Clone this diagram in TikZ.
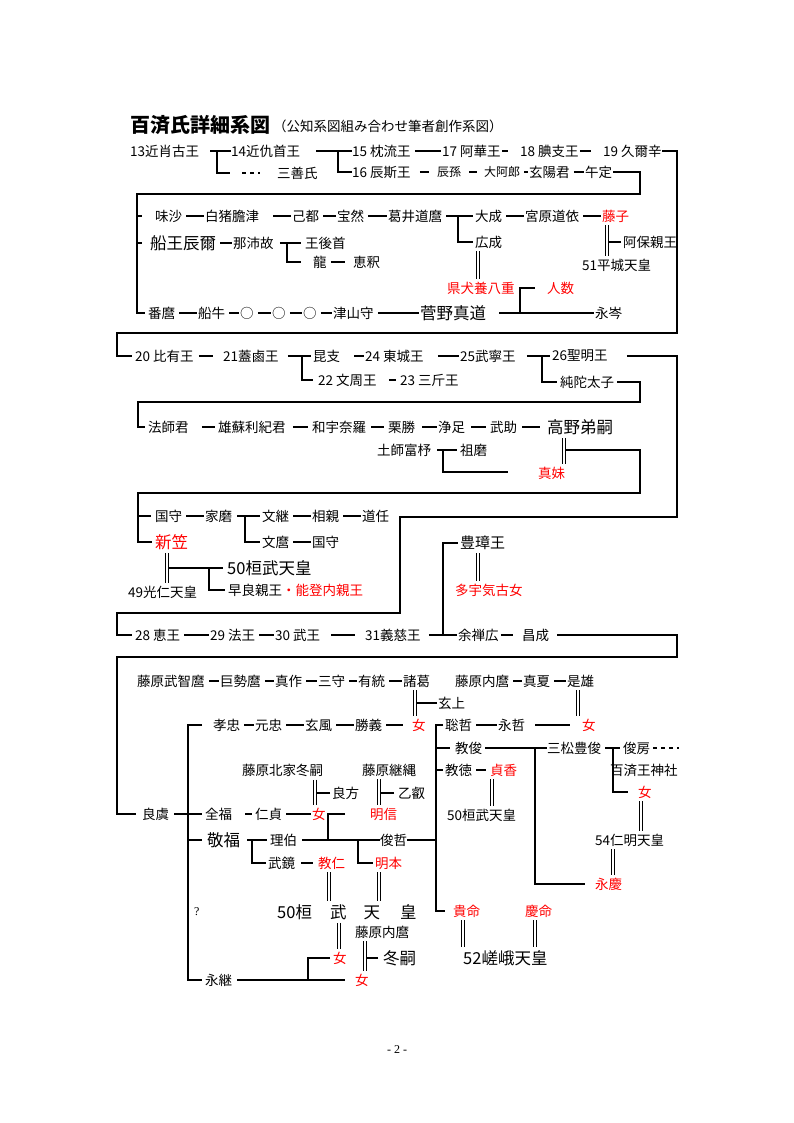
\documentclass[tikz,border=0pt]{standalone}
\usepackage{fontspec}
\setmainfont{Noto Sans CJK JP}
\newfontfamily\serfont{Liberation Serif}
\usetikzlibrary{calc}
% marriage double line: upper node, lower node, x offset from upper node west
\newcommand{\wed}[3]{\draw[dl] ($(#1.south west)+(#3,3)$) coordinate (w) -- ($(w |- #2.north)+(0,-3)$);}

\begin{document}
\begin{tikzpicture}[x=1pt,y=-1pt,
  every node/.style={font=\fontsize{13.5}{14}\selectfont, inner sep=0pt, anchor=west},
  bg/.style={font=\fontsize{16.5}{17}\selectfont},
  md/.style={font=\fontsize{15}{16}\selectfont},
  sm/.style={font=\fontsize{12}{13}\selectfont},
  fm/.style={text=red},
  ln/.style={line width=2.4pt},
  lk/.style={line width=2.4pt, shorten <=4pt, shorten >=1.5pt},
  dl/.style={double, double distance=2pt, line width=1pt},
  dsh/.style={line width=2.2pt, dash pattern=on 4pt off 4pt},
]
  \fill[white] (0,0) rectangle (794,1123);
  \useasboundingbox (0,0) rectangle (794,1123);

  % TITLE
  \node[font=\fontsize{20}{20}\selectfont\bfseries] (ttl) at (130,125) {百済氏詳細系図};
  \node (sub) at (273,126) {（公知系図組み合わせ筆者創作系図）};

  % KINGS 13-19
  \node (k13) at (130,151) {13近肖古王};
  \node (k14) at (231,151) {14近仇首王};
  \node (k15) at (352,151) {15 枕流王};
  \node (k17) at (442,151) {17 阿華王};
  \node (k18) at (520,151) {18 腆支王};
  \node (k19) at (603,151) {19 久爾辛};
  \node (mzs) at (277,173) {三善氏};
  \node (k16) at (352,172) {16 辰斯王};
  \node[sm] (sns) at (437,172) {辰孫};
  \node[sm] (aro) at (484,172) {大阿郎};
  \node (gny) at (529,172) {玄陽君};
  \node (gtei) at (585,172) {午定};

  \coordinate (j13) at (217,151);
  \coordinate (j13b) at (230,173);
  \coordinate (dtb) at (260,173);
  \coordinate (j14) at (338,151);
  \draw[ln] (k13.east) ++(11,0) -- (k14.west) (j13) |- (j13b);
  \draw[dsh] ([xshift=12pt]j13b) -- (dtb);
  \draw[ln] (k14.east) ++(16,0) -- (k15.west) (j14) |- (k16.west);
  \foreach \a/\b in {k15/k17,aro/gny,gny/gtei}
    \draw[lk] (\a.east) -- (\b.west);
  \foreach \a/\b in {k17/k18,k18/k19}
    \draw[lk,shorten <=1pt,shorten >=12pt] (\a.east) -- (\b.west);
  \draw[lk,shorten <=9pt,shorten >=8pt] (k16.east) -- (sns.west);
  \draw[lk,shorten <=8pt,shorten >=7pt] (sns.east) -- (aro.west);

  % FUNE BRANCH
  \node (msa) at (155,216) {味沙};
  \node (hks) at (205,216) {白猪膽津};
  \node (kto) at (292,216) {己都};
  \node (hzn) at (337,216) {宝然};
  \node (fjm) at (388,216) {葛井道麿};
  \node (ose) at (475,216) {大成};
  \node (mhm) at (525,216) {宮原道依};
  \node[fm] (fjk) at (602,216) {藤子};
  \node[bg] (fne) at (150,243) {船王辰爾};
  \node (nsk) at (233,243) {那沛故};
  \node (ogs) at (305,243) {王後首};
  \node (kos) at (475,242) {広成};
  \node (abo) at (623,242) {阿保親王};
  \node (ryu) at (313,262) {龍};
  \node (eks) at (353,262) {恵釈};
  \node (hzt) at (582,265) {51平城天皇};
  \node[fm] (ayy) at (447,288) {県犬養八重};
  \node[fm] (nnk) at (547,288) {人数};
  \node (bnm) at (148,313) {番麿};
  \node (fng) at (198,313) {船牛};
  \node (o1) at (240,313) {○};
  \node (o2) at (272,313) {○};
  \node (o3) at (303,313) {○};
  \node (tsy) at (333,313) {津山守};
  \node[bg] (sgm) at (420,313) {菅野真道};
  \node (eim) at (595,313) {永岑};

  \coordinate (t1a) at (640,194);
  \coordinate (t1b) at (137,194);
  \draw[ln] (gtei.east) ++(1,0) -| (t1a) -- (t1b) -- (t1b |- bnm.west) -- ([xshift=-3pt]bnm.west);
  \draw[ln] (t1b |- msa.west) -- ++(5,0);
  \draw[ln] (t1b |- fne.west) -- ++(5,0);
  \foreach \a/\b in {msa/hks,kto/hzn,hzn/fjm,ose/mhm,mhm/fjk,fne/nsk,bnm/fng,fng/o1,o1/o2,o2/o3,o3/tsy,tsy/sgm}
    \draw[lk] (\a.east) -- (\b.west);
  \draw[lk,shorten <=14pt] (hks.east) -- (kto.west);
  \draw[lk,shorten >=8pt] (ryu.east) -- (eks.west);
  \coordinate (jfj) at (458,216);
  \draw[ln] (fjm.east) ++(4,0) -- ([xshift=-2pt]ose.west) (jfj) |- ([xshift=-2pt]kos.west);
  \coordinate (jns) at (287,243);
  \draw[ln] (nsk.east) ++(6,0) -- ([xshift=-4pt]ogs.west) (jns) |- ([xshift=-12pt]ryu.west);
  \wed{fjk}{hzt}{5}
  \draw[ln] ([xshift=-2pt]abo.west) -- ++(-12,0);
  \wed{kos}{ayy}{3}
  \coordinate (jsg) at (520,313);
  \draw[ln] (sgm.east) ++(13,0) -- ([xshift=-1pt]eim.west) (jsg) |- ([xshift=-12pt]nnk.west);

  % KINGS 20-26
  \node (k20) at (135,356) {20 比有王};
  \node (k21) at (223,356) {21蓋鹵王};
  \node (knj) at (313,356) {昆支};
  \node (k24) at (365,356) {24 東城王};
  \node (k25) at (460,356) {25武寧王};
  \node (k26) at (552,356) {26聖明王};
  \node (k22) at (318,380) {22 文周王};
  \node (k23) at (400,380) {23 三斤王};
  \node (jnt) at (560,382) {純陀太子};

  \draw[lk,shorten <=5pt,shorten >=10pt] (k20.east) -- (k21.west);
  \coordinate (jk21) at (302,356);
  \draw[ln] (k21.east) ++(9,0) -- ([xshift=-2pt]knj.west) (jk21) |- ([xshift=-5pt]k22.west);
  \draw[lk,shorten <=14pt] (knj.east) -- (k24.west);
  \draw[lk,shorten <=14pt] (k24.east) -- (k25.west);
  \coordinate (jk25) at (542,356);
  \draw[ln] (k25.east) ++(11,0) -- ([xshift=-2pt]k26.west) (jk25) |- ([xshift=-3pt]jnt.west);
  \draw[lk,shorten <=12pt,shorten >=4pt] (k22.east) -- (k23.west);

  % HOSHIKUN LINE
  \node (hsk) at (148,427) {法師君};
  \node (ysr) at (218,427) {雄蘇利紀君};
  \node (wun) at (312,427) {和宇奈羅};
  \node (krk) at (388,427) {栗勝};
  \node (jsk) at (438,427) {浄足};
  \node (bsk) at (490,427) {武助};
  \node[bg] (ktt) at (547,427) {高野弟嗣};
  \node (hjf) at (377,450) {土師富杼};
  \node (som) at (460,450) {祖磨};
  \node[fm] (mim) at (538,473) {真妹};

  \draw[lk,shorten <=13pt,shorten >=3pt] (hsk.east) -- (ysr.west);
  \draw[lk,shorten <=7pt,shorten >=4pt] (ysr.east) -- (wun.west);
  \draw[lk,shorten <=5pt,shorten >=4pt] (wun.east) -- (krk.west);
  \draw[lk,shorten <=7pt] (krk.east) -- (jsk.west);
  \draw[lk,shorten <=6pt,shorten >=4pt] (jsk.east) -- (bsk.west);
  \draw[lk,shorten <=5pt,shorten >=7pt] (bsk.east) -- (ktt.west);
  \coordinate (jhj) at (443,450);
  \coordinate (hje) at (508,472);
  \draw[ln] (hjf.east) ++(6,0) -- ([xshift=-3pt]som.west) (jhj) |- (hje);
  \wed{ktt}{mim}{17}

  % NIIGASA
  \node (kmr) at (155,516) {国守};
  \node (iem) at (205,516) {家磨};
  \node (bnt) at (262,516) {文継};
  \node (sos) at (312,516) {相親};
  \node (dnn) at (362,516) {道任};
  \node[bg,fm] (ngs) at (155,542) {新笠};
  \node (bnm2) at (262,542) {文麿};
  \node (kmr2) at (312,542) {国守};
  \node[md] (hsh) at (460,543) {豊璋王};
  \node[bg] (kmt1) at (227,568) {50桓武天皇};
  \node (swr) at (228,590) {早良親王};
  \node[fm] (ntn) at (282,590) {・能登内親王};
  \node (knt) at (128,592) {49光仁天皇};
  \node[fm] (tuk) at (455,590) {多宇気古女};

  \foreach \a/\b in {kmr/iem,bnt/sos,sos/dnn,bnm2/kmr2}
    \draw[lk] (\a.east) -- (\b.west);
  \coordinate (jie) at (245,516);
  \draw[ln] (iem.east) ++(5,0) -- ([xshift=-2pt]bnt.west) (jie) |- ([xshift=-2pt]bnm2.west);
  \wed{ngs}{knt}{12}
  \coordinate (jkn) at (169,568);
  \coordinate (jsw) at (209,568);
  \draw[ln] (jkn) -- ([xshift=-4pt]kmt1.west) (jsw) |- ([xshift=-3pt]swr.west);
  \wed{hsh}{tuk}{18}

  % KINGS 28-31
  \node (k28) at (135,635) {28 恵王};
  \node (k29) at (210,635) {29 法王};
  \node (k30) at (275,635) {30 武王};
  \node (k31) at (365,635) {31義慈王};
  \node (yzk) at (458,635) {余禅広};
  \node (shs) at (522,635) {昌成};
  \foreach \a/\b in {k28/k29,k29/k30}
    \draw[lk] (\a.east) -- (\b.west);
  \draw[lk,shorten <=11pt,shorten >=10pt] (k30.east) -- (k31.west);
  \coordinate (jk31) at (443,635);
  \draw[ln] (k31.east) ++(8,0) -- ([xshift=-1pt]yzk.west) (jk31) |- ([xshift=-2pt]hsh.west);
  \draw[lk,shorten <=2pt,shorten >=9pt] (yzk.east) -- (shs.west);

  % FUJIWARA
  \node (fjt) at (137,681) {藤原武智麿};
  \node (kse) at (220,681) {巨勢麿};
  \node (msk) at (275,681) {真作};
  \node (smr) at (318,681) {三守};
  \node (ytu) at (358,681) {有統};
  \node (sks) at (403,681) {諸葛};
  \node (fuu) at (455,681) {藤原内麿};
  \node (mnt) at (523,681) {真夏};
  \node (kru) at (567,681) {是雄};
  \node (gnj) at (438,703) {玄上};
  \foreach \a/\b in {fjt/kse,kse/msk,msk/smr,smr/ytu,ytu/sks,fuu/mnt,mnt/kru}
    \draw[lk] (\a.east) -- (\b.west);

  \node (kch) at (213,725) {孝忠};
  \node (gch) at (255,725) {元忠};
  \node (gnf) at (305,725) {玄風};
  \node (sgi) at (355,725) {勝義};
  \node[fm] (nyo1) at (412,725) {女};
  \node (stt) at (445,725) {聡哲};
  \node (eit) at (498,725) {永哲};
  \node[fm] (nyo2) at (582,725) {女};
  \wed{sks}{nyo1}{12}
  \draw[ln] ([xshift=-1pt]gnj.west) -- ++(-20,0);
  \wed{kru}{nyo2}{11}
  \foreach \a/\b in {kch/gch,gch/gnf,gnf/sgi,stt/eit}
    \draw[lk] (\a.east) -- (\b.west);
  \draw[lk,shorten >=9pt] (sgi.east) -- (nyo1.west);
  \draw[lk,shorten <=10pt,shorten >=12pt] (eit.east) -- (nyo2.west);

  % KUDARA NO KONIKISHI
  \node (kys) at (455,748) {教俊};
  \node (smt) at (547,748) {三松豊俊};
  \node (tsf) at (623,748) {俊房};
  \node (hsj) at (610,770) {百済王神社};
  \node[fm] (nyo3) at (638,792) {女};
  \node (nmt) at (595,840) {54仁明天皇};
  \node[fm] (eky) at (595,884) {永慶};
  \node (fhf) at (242,770) {藤原北家冬嗣};
  \node (ftt) at (362,770) {藤原継縄};
  \node (ktk) at (445,770) {教徳};
  \node[fm] (tik) at (490,770) {貞香};
  \node (ryh) at (332,793) {良方};
  \node (otk) at (398,793) {乙叡};
  \node (rgu) at (142,814) {良虞};
  \node (zfk) at (205,814) {全福};
  \node (jtei) at (255,814) {仁貞};
  \node[fm] (nyo4) at (312,814) {女};
  \node[fm] (mss) at (370,814) {明信};
  \node (kmt2) at (447,815) {50桓武天皇};
  \node[bg] (kfk) at (207,840) {敬福};
  \node (rhk) at (270,840) {理伯};
  \node (sht) at (380,840) {俊哲};
  \node (bkk) at (268,863) {武鏡};
  \node[fm] (kjn) at (318,863) {教仁};
  \node[fm] (mhn) at (375,863) {明本};
  \node[font=\serfont\fontsize{12}{12}\selectfont] (qm) at (194,912) {?};
  \node[bg] (kmt3) at (277,912) {50桓\hspace{18pt}武\hspace{17pt}天\hspace{20pt}皇};
  \node[fm] (kim) at (453,911) {貴命};
  \node[fm] (kem) at (525,911) {慶命};
  \node (fuu2) at (355,932) {藤原内麿};
  \node[fm] (nyo5) at (333,958) {女};
  \node[bg] (fyt) at (383,958) {冬嗣};
  \node[bg] (sag) at (463,958) {52嵯峨天皇};
  \node (egi) at (205,980) {永継};
  \node[fm] (nyo6) at (355,980) {女};

  \coordinate (t7) at (188,725);
  \draw[ln] ([xshift=-11pt]kch.west) -- (t7) -- (t7 |- egi.west) -- ([xshift=-3pt]egi.west);
  \draw[ln] (t7 |- kfk.west) -- ([xshift=-5pt]kfk.west);
  \coordinate (t8) at (436,725);
  \draw[ln] ([xshift=-2pt]stt.west) -- (t8) -- (t8 |- kim.west) -- ([xshift=-8pt]kim.west);
  \draw[ln] (t8 |- kys.west) -- ([xshift=-5pt]kys.west);
  \draw[ln] (t8 |- ktk.west) -- ([xshift=-2pt]ktk.west);

  \draw[ln] (kys.east) ++(3,0) -- (smt.west);
  \coordinate (jky) at (535,748);
  \draw[ln] (jky) |- ([xshift=-10pt]eky.west);
  \coordinate (jsm) at (613,748);
  \draw[ln] (smt.east) ++(4,0) -- ([xshift=-3pt]tsf.west) (jsm) |- ([xshift=-10pt]nyo3.west);
  \coordinate (dtu) at (679,748);
  \draw[dsh] (tsf.east) ++(3,0) -- (dtu);
  \wed{nyo3}{nmt}{3}
  \wed{nmt}{eky}{18}

  \draw[lk,shorten >=4pt] (ktk.east) -- (tik.west);
  \wed{tik}{kmt2}{2}
  \wed{fhf}{nyo4}{73}
  \draw[ln] ([xshift=-2pt]ryh.west) -- ++(-13,0);
  \wed{ftt}{mss}{17}
  \draw[ln] ([xshift=-4pt]otk.west) -- ++(-14,0);

  \draw[ln] (rgu.east) ++(5,0) -- ([xshift=-3pt]zfk.west);
  \draw[lk,shorten <=13pt,shorten >=3pt] (zfk.east) -- (jtei.west);
  \draw[lk] (jtei.east) -- (nyo4.west);
  \coordinate (n4e) at (345,814);
  \coordinate (jn4b) at (328,840);
  \draw[ln] (n4e) -| (jn4b);

  \coordinate (jkf) at (252,840);
  \draw[ln] (kfk.east) ++(7,0) -- ([xshift=-3pt]rhk.west) (jkf) |- ([xshift=-2pt]bkk.west);
  \coordinate (jrh) at (358,840);
  \draw[ln] (rhk.east) ++(5,0) -- (sht.west) (jrh) |- ([xshift=-2pt]mhn.west);
  \draw[ln] (sht.east) -- (t8 |- sht.east);
  \draw[lk,shorten <=6pt,shorten >=5pt] (bkk.east) -- (kjn.west);
  \wed{kjn}{kmt3}{11}
  \wed{mhn}{kmt3}{4}

  \wed{kmt3}{nyo5}{62}
  \wed{fuu2}{nyo6}{10}
  \draw[ln] ([xshift=-5pt]fyt.west) -- ++(-11,0);
  \coordinate (jn5b) at (308,980);
  \draw[ln] ([xshift=-3pt]nyo5.west) -| (jn5b);
  \draw[lk,shorten <=5pt,shorten >=10pt] (egi.east) -- (nyo6.west);
  \wed{kim}{sag}{10}
  \wed{kem}{sag}{10}

  % TRUNK LINES
  \coordinate (t2a) at (677,333);
  \coordinate (t2b) at (117,333);
  \draw[ln] (k19.east) -| (t2a) -- (t2b) -- (t2b |- k20.west) -- ([xshift=-3pt]k20.west);
  \coordinate (t3a) at (640,402);
  \coordinate (t3b) at (138,402);
  \draw[ln] (jnt.east) ++(3,0) -| (t3a) -- (t3b) -- (t3b |- hsk.west) -- ([xshift=-3pt]hsk.west);
  \coordinate (t4s) at (566,450);
  \coordinate (t4a) at (640,493);
  \coordinate (t4b) at (138,493);
  \draw[ln] (t4s) -| (t4a) -- (t4b) -- (t4b |- ngs.west) -- ([xshift=-3pt]ngs.west);
  \draw[ln] (t4b |- kmr.west) -- ([xshift=-4pt]kmr.west);
  \coordinate (t5a) at (677,517);
  \coordinate (t5b) at (400,517);
  \coordinate (t5c) at (400,613);
  \coordinate (t5d) at (117,613);
  \draw[ln] (k26.east) ++(19,0) -| (t5a) -- (t5b) -- (t5c) -- (t5d) -- (t5d |- k28.west) -- ([xshift=-3pt]k28.west);
  \coordinate (t6a) at (677,657);
  \coordinate (t6b) at (117,657);
  \draw[ln] (shs.east) ++(8,0) -| (t6a) -- (t6b) -- (t6b |- rgu.west) -- ([xshift=-6pt]rgu.west);

  % page number
  \node[anchor=center, font=\serfont\fontsize{12}{12}\selectfont] (pg) at (397,1050) {- 2 -};
\end{tikzpicture}
\end{document}
